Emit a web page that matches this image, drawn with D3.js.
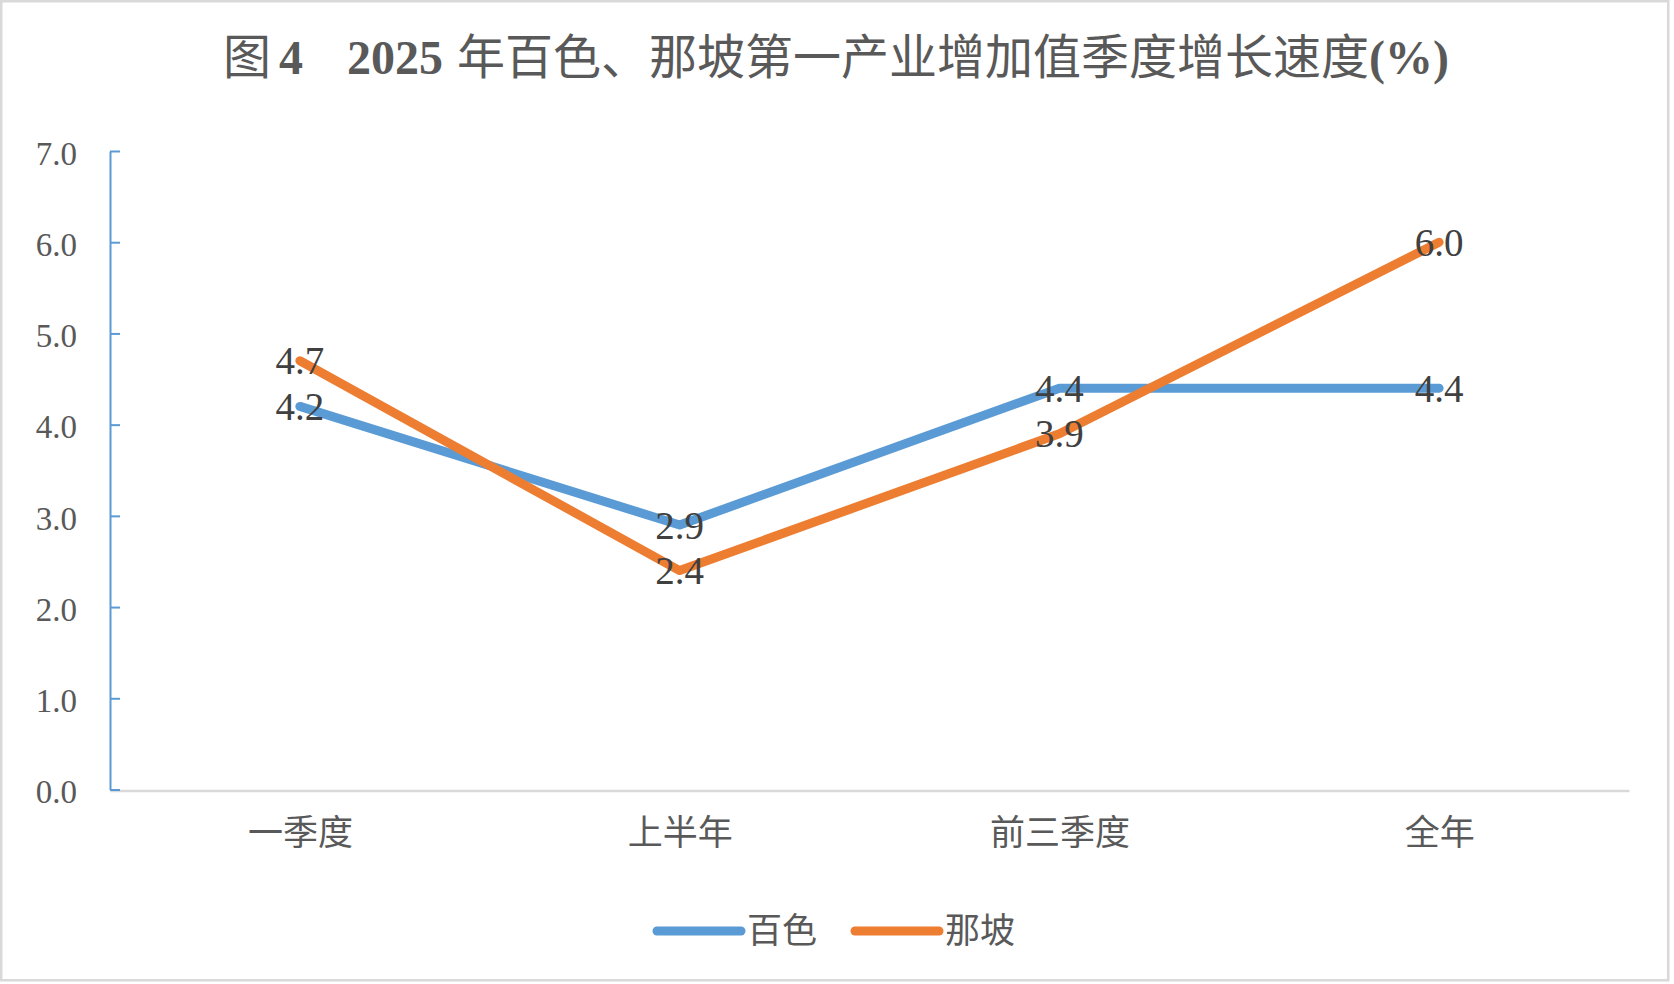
<!DOCTYPE html>
<html>
<head>
<meta charset="utf-8">
<script src="https://cdn.jsdelivr.net/npm/d3@7/dist/d3.min.js"></script>
<style>
  html, body { margin: 0; padding: 0; background: #fff; }
  svg { display: block; }
</style>
</head>
<body>
<script>
(function () {
  'use strict'

  // categories and series
  var categories = ['一季度', '上半年', '前三季度', '全年']
  var baise = [4.2, 2.9, 4.4, 4.4]
  var napo = [4.7, 2.4, 3.9, 6.0]
  var seriesNames = ['百色', '那坡']
  var seriesColors = ['#5b9bd5', '#ed7d31']
  var yTicks = [0, 1, 2, 3, 4, 5, 6, 7]

  var w = 1674
  var h = 984
  var serif = "'Liberation Serif', 'Times New Roman', 'Noto Sans CJK SC', serif"

  var series = [
    { name: seriesNames[0], color: seriesColors[0], values: baise },
    { name: seriesNames[1], color: seriesColors[1], values: napo }
  ]

  var x = d3.scalePoint()
    .domain(categories)
    .range([110, 1629])
    .padding(0.5)
  var y = d3.scaleLinear()
    .domain([0, 7])
    .range([789.5, 151])

  var svg = d3.select('body').append('svg')
    .attr('width', w)
    .attr('height', h)
    .style('font-family', serif)

  // outer frame
  svg.append('rect')
    .attr('x', 1.25)
    .attr('y', 1.25)
    .attr('width', 1667)
    .attr('height', 979)
    .attr('fill', '#fff')
    .attr('stroke', '#d9d9d9')
    .attr('stroke-width', 2.5)

  // title, mixed weights
  var title = svg.append('text')
    .attr('x', 836)
    .attr('y', 74)
    .attr('text-anchor', 'middle')
    .attr('fill', '#595959')
    .style('font-size', '48px')
  title.append('tspan').text('图')
  title.append('tspan').attr('font-weight', 'bold').attr('dx', 8).text('4')
  title.append('tspan').attr('font-weight', 'bold').attr('dx', 44).text('2025')
  title.append('tspan').attr('dx', 14).text('年百色、那坡第一产业增加值季度增长速度')
  title.append('tspan').attr('font-weight', 'bold').text('(%)')

  // x axis
  var xAxis = svg.append('g')
    .attr('transform', 'translate(0,790.5)')
    .call(d3.axisBottom(x).tickSize(0).tickSizeOuter(0))
  xAxis.select('.domain')
    .attr('stroke', '#d9d9d9')
    .attr('stroke-width', 2.5)
  xAxis.selectAll('text')
    .attr('y', 42)
    .attr('dy', '0.35em')
    .attr('fill', '#595959')
    .style('font-family', serif)
    .style('font-size', '35px')

  // y axis, ticks pointing into the plot
  var yAxis = svg.append('g')
    .attr('transform', 'translate(110,0)')
    .call(d3.axisLeft(y)
      .tickValues(yTicks)
      .tickFormat(d3.format('.1f'))
      .tickSizeInner(-10)
      .tickSizeOuter(0)
      .tickPadding(33))
  yAxis.select('.domain')
    .attr('stroke', '#5b9bd5')
    .attr('stroke-width', 2)
  yAxis.selectAll('.tick line')
    .attr('stroke', '#5b9bd5')
    .attr('stroke-width', 2)
  yAxis.selectAll('.tick text')
    .attr('dy', '0.4em')
    .attr('fill', '#595959')
    .style('font-family', serif)
    .style('font-size', '33px')

  // lines
  var line = d3.line()
    .x(function (d, i) { return x(categories[i]) })
    .y(function (d) { return y(d) })

  svg.selectAll('path.series')
    .data(series)
    .enter().append('path')
      .attr('class', 'series')
      .attr('d', function (d) { return line(d.values) })
      .attr('fill', 'none')
      .attr('stroke', function (d) { return d.color })
      .attr('stroke-width', 9)
      .attr('stroke-linecap', 'round')
      .attr('stroke-linejoin', 'round')

  // data labels sit on the points
  series.forEach(function (s) {
    svg.append('g').selectAll('text')
      .data(s.values)
      .enter().append('text')
        .attr('x', function (d, i) { return x(categories[i]) })
        .attr('y', function (d) { return y(d) })
        .attr('dy', '0.35em')
        .attr('text-anchor', 'middle')
        .attr('fill', '#404040')
        .style('font-size', '39px')
        .text(function (d) { return d3.format('.1f')(d) })
  })

  // legend
  var legendX = [657, 855]
  var legend = svg.selectAll('g.legend')
    .data(series)
    .enter().append('g')
      .attr('class', 'legend')
      .attr('transform', function (d, i) { return 'translate(' + legendX[i] + ',931)' })
  legend.append('line')
    .attr('x1', 0)
    .attr('x2', 84)
    .attr('stroke', function (d) { return d.color })
    .attr('stroke-width', 9)
    .attr('stroke-linecap', 'round')
  legend.append('text')
    .attr('x', 90)
    .attr('dy', '0.35em')
    .attr('fill', '#595959')
    .style('font-size', '35px')
    .text(function (d) { return d.name })
}())
</script>
</body>
</html>
